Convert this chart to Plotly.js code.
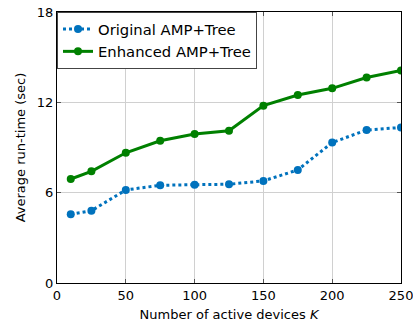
<!DOCTYPE html>
<html><head><meta charset="utf-8">
<script src="https://cdn.plot.ly/plotly-3.0.1.min.js"></script>
<style>html,body{margin:0;padding:0;background:#fff}#c{width:413px;height:323px}</style>
</head><body><div id="c"></div>
<script>
const K = [10, 25, 50, 75, 100, 125, 150, 175, 200, 225, 250];
const original = [4.56, 4.80, 6.18, 6.49, 6.53, 6.56, 6.78, 7.51, 9.33, 10.16, 10.33];
const enhanced = [6.91, 7.42, 8.65, 9.45, 9.89, 10.11, 11.78, 12.49, 12.93, 13.65, 14.11];
const xTicks = [0, 50, 100, 150, 200, 250];
const yTicks = [0, 6, 12, 18];
const names = ['Original AMP+Tree', 'Enhanced AMP+Tree'];

const font = {family: 'DejaVu Sans, sans-serif', size: 13, color: '#000'};
const traces = [
  {x: K, y: original, name: names[0], mode: 'lines+markers',
   line: {color: '#0072BD', width: 3, dash: 'dot'}, marker: {color: '#0072BD', size: 8}},
  {x: K, y: enhanced, name: names[1], mode: 'lines+markers',
   line: {color: '#008000', width: 3}, marker: {color: '#008000', size: 8}}
];
const axisCommon = {showline: true, linecolor: '#000', linewidth: 1, mirror: 'ticks',
  ticks: 'inside', ticklen: 4, tickcolor: '#555', showgrid: true, gridcolor: '#d0d0d0',
  zeroline: false, tickfont: font, ticklabeloverflow: 'allow'};
const layout = {
  width: 413, height: 323,
  margin: {l: 57, r: 12, t: 12, b: 40},
  paper_bgcolor: '#fff', plot_bgcolor: '#fff',
  font: font,
  showlegend: true,
  legend: {x: 0, y: 1, xanchor: 'left', yanchor: 'top', bgcolor: '#fff',
    bordercolor: '#444', borderwidth: 1, font: {family: 'DejaVu Sans, sans-serif', size: 14.8, color: '#000'},
    tracegroupgap: 0},
  xaxis: Object.assign({}, axisCommon, {range: [0, 250], tickvals: xTicks,
    title: {text: 'Number of active devices <i>K</i>', font: font, standoff: 8}}),
  yaxis: Object.assign({}, axisCommon, {range: [0, 18], tickvals: yTicks,
    title: {text: 'Average run-time (sec)', font: font, standoff: 8}})
};
Plotly.newPlot('c', traces, layout, {displayModeBar: false, staticPlot: true});
</script></body></html>
